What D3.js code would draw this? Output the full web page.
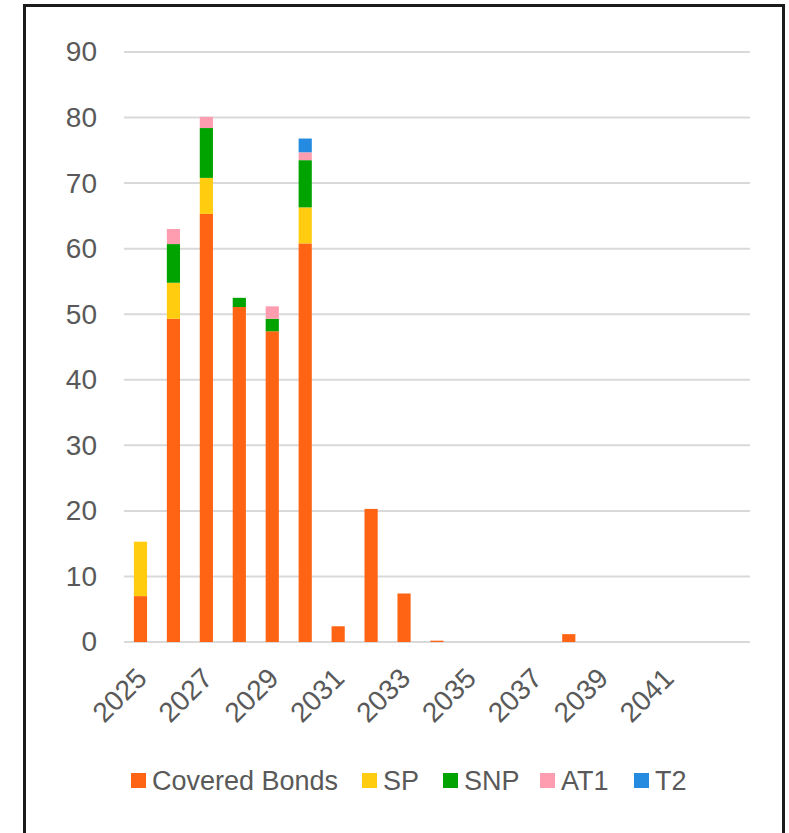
<!DOCTYPE html>
<html>
<head>
<meta charset="utf-8">
<script src="https://cdn.jsdelivr.net/npm/d3@7/dist/d3.min.js"></script>
<style>
  html, body { margin: 0; padding: 0; background: #fff; }
  svg { display: block; }
  text { font-family: "Liberation Sans", Arial, sans-serif; fill: #595959; }
</style>
</head>
<body>
<svg id="chart" width="789" height="833"></svg>
<script>
const years = ["2025","2026","2027","2028","2029","2030","2031","2032","2033","2034","2035","2036","2037","2038","2039","2040","2041","2042","2043"];
const seriesNames = ["Covered Bonds", "SP", "SNP", "AT1", "T2"];
const coveredBonds = [7.0, 49.3, 65.3, 51.1, 47.4, 60.8, 2.4, 20.3, 7.4, 0.2, 0, 0, 0, 1.2, 0, 0, 0, 0, 0];
const sp           = [8.3, 5.5, 5.5, 0, 0, 5.5, 0, 0, 0, 0, 0, 0, 0, 0, 0, 0, 0, 0, 0];
const snp          = [0, 5.9, 7.6, 1.4, 1.9, 7.2, 0, 0, 0, 0, 0, 0, 0, 0, 0, 0, 0, 0, 0];
const at1          = [0, 2.3, 1.7, 0, 1.9, 1.2, 0, 0, 0, 0, 0, 0, 0, 0, 0, 0, 0, 0, 0];
const t2           = [0, 0, 0, 0, 0, 2.1, 0, 0, 0, 0, 0, 0, 0, 0, 0, 0, 0, 0, 0];
const yTicks = [0, 10, 20, 30, 40, 50, 60, 70, 80, 90];
const xTickLabels = ["2025","2027","2029","2031","2033","2035","2037","2039","2041"];
const colors = ["#ff6414", "#ffcc0f", "#00a300", "#ff9db0", "#248be0"];

const seriesValues = [coveredBonds, sp, snp, at1, t2];
const table = years.map((y, i) => {
  const row = { year: y };
  seriesNames.forEach((s, k) => row[s] = seriesValues[k][i]);
  return row;
});

const svg = d3.select("#chart");
svg.append("rect").attr("width", 789).attr("height", 833).attr("fill", "#fff");

const x = d3.scaleBand().domain(years).range([124, 750]).paddingInner(0.6).paddingOuter(0.3);
const y = d3.scaleLinear().domain([0, 90]).range([642, 52]);

// gridlines
svg.append("g").selectAll("line").data(yTicks).join("line")
  .attr("x1", 124).attr("x2", 750)
  .attr("y1", d => y(d)).attr("y2", d => y(d))
  .attr("stroke", "#d9d9d9").attr("stroke-width", 2);

// y axis labels
const yAxis = d3.axisLeft(y).tickValues(yTicks).tickSize(0).tickPadding(0).tickFormat(d3.format("d"));
const gy = svg.append("g").attr("transform", "translate(97,0)").call(yAxis);
gy.select(".domain").remove();
gy.selectAll("text").style("font-size", "28px").attr("fill", "#595959")
  .style("font-family", "'Liberation Sans', Arial, sans-serif");

// stacked bars
const stack = d3.stack().keys(seriesNames);
const stacked = stack(table);
svg.append("g").selectAll("g").data(stacked).join("g")
  .attr("fill", (d, i) => colors[i])
  .selectAll("rect").data(d => d).join("rect")
  .attr("x", d => x(d.data.year))
  .attr("width", x.bandwidth())
  .attr("y", d => y(d[1]))
  .attr("height", d => Math.max(0, y(d[0]) - y(d[1])));

// x axis labels
const xAxis = d3.axisBottom(x).tickValues(xTickLabels).tickSize(0).tickPadding(0);
const gx = svg.append("g").attr("transform", "translate(0,650)").call(xAxis);
gx.select(".domain").remove();
gx.selectAll("text")
  .style("font-size", "28px").attr("fill", "#595959")
  .style("font-family", "'Liberation Sans', Arial, sans-serif")
  .attr("text-anchor", "end")
  .attr("dy", "0.35em")
  .attr("y", 0).attr("x", 0)
  .attr("transform", "translate(1,23) rotate(-45)");

// legend
const legendX = [131, 362, 443, 540, 634];
const lg = svg.append("g").selectAll("g").data(seriesNames).join("g")
  .attr("transform", (d, i) => `translate(${legendX[i]},773)`);
lg.append("rect").attr("width", 15).attr("height", 15).attr("fill", (d, i) => colors[i]);
lg.append("text").attr("x", 21).attr("y", 17).style("font-size", "27px").text(d => d);

// border
svg.append("rect").attr("x", 24.5).attr("y", 5.5).attr("width", 759).attr("height", 900)
  .attr("fill", "none").attr("stroke", "#1a1a1a").attr("stroke-width", 3);
</script>
</body>
</html>
